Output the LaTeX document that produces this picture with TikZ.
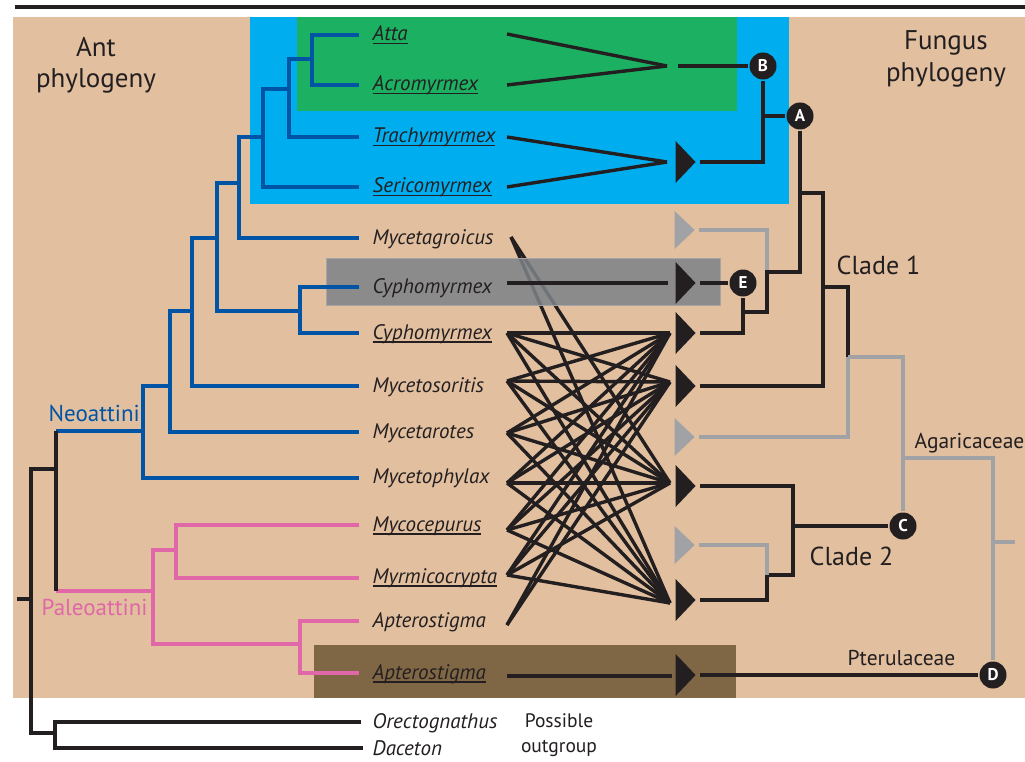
\documentclass[tikz,border=0pt]{standalone}
\usepackage{fontspec}
\setmainfont{PT Sans}
\usetikzlibrary{shapes.geometric}
\definecolor{tanbg}{RGB}{225,191,159}
\definecolor{cyanbox}{RGB}{0,174,239}
\definecolor{greenbox}{RGB}{27,176,98}
\definecolor{graybox}{RGB}{126,131,136}
\definecolor{grayedge}{RGB}{165,165,165}
\definecolor{brownbox}{RGB}{127,102,69}
\definecolor{antblue}{RGB}{0,84,166}
\definecolor{antpink}{RGB}{224,104,168}
\definecolor{inkblack}{RGB}{35,31,32}
\definecolor{fungray}{RGB}{160,162,166}
\newsavebox\taxonbox
\newcommand{\ultaxon}[1]{\sbox\taxonbox{#1}\rlap{\rule[-3.5pt]{\wd\taxonbox}{1.8pt}}\usebox\taxonbox}
\tikzset{
phylo/.style={
    x=1pt,
    y=-1pt,
    line width=3.4pt
},
taxon/.style={
    anchor=base west,
    inner sep=0pt,
    text=inkblack,
    font=\fontsize{21}{21}\selectfont\itshape
},
heading/.style={
    anchor=base,
    inner sep=0pt,
    text=inkblack,
    font=\fontsize{27}{27}\selectfont
},
cladename/.style={
    anchor=base west,
    inner sep=0pt,
    text=inkblack,
    font=\fontsize{26}{26}\selectfont
},
family/.style={
    anchor=base west,
    inner sep=0pt,
    text=inkblack,
    font=\fontsize{21.5}{21.5}\selectfont
},
tribe/.style={
    anchor=base west,
    inner sep=0pt,
    font=\fontsize{23}{23}\selectfont
},
neoline/.style={
    draw=antblue
},
paleoline/.style={
    draw=antpink
},
rootline/.style={
    draw=inkblack
},
fan/.style={
    draw=inkblack
},
fungline/.style={
    draw=inkblack
},
lostline/.style={
    draw=fungray
},
cultivar/.style={
    isosceles triangle,
    isosceles triangle stretches,
    minimum width=42pt,
    minimum height=20pt,
    inner sep=0pt,
    fill=inkblack,
    anchor=apex
},
lostcultivar/.style={
    cultivar,
    fill=fungray,
    minimum width=38pt
},
fungnode/.style={
    circle,
    fill=inkblack,
    text=white,
    inner sep=0pt,
    minimum size=27pt,
    font=\fontsize{17}{17}\selectfont\bfseries
}}

\begin{document}
\begin{tikzpicture}[phylo]
\useasboundingbox (0,0) rectangle (1025,762);
% panels
\fill[white]     (0,0)     rectangle (1025,762);
\draw[inkblack]  (15,7) -- (1025,7);
\fill[tanbg]     (13,17)   rectangle (1025,698);
\fill[cyanbox]   (250,17)  rectangle (789,204);
\fill[greenbox]  (297,17)  rectangle (737,111);
\fill[brownbox]  (314,645) rectangle (736,698);

% ant tips
\coordinate (atta)   at (359,35);
\coordinate (acro)   at (359,85);
\coordinate (trachy) at (359,137);
\coordinate (serico) at (359,187);
\coordinate (mgroic) at (359,238);
\coordinate (cyph1)  at (359,287);
\coordinate (cyph2)  at (359,333);
\coordinate (msorit) at (359,386);
\coordinate (marot)  at (359,432);
\coordinate (mphyl)  at (359,478);
\coordinate (mcocep) at (359,525);
\coordinate (myrmic) at (359,578);
\coordinate (apter1) at (359,621);
\coordinate (apter2) at (359,673);
\coordinate (orect)  at (361,722);
\coordinate (dacet)  at (363,748);

% ant splits
\coordinate (n1)    at (312,59);
\coordinate (n2)    at (289,89);
\coordinate (n3)    at (263,137);
\coordinate (n4)    at (239,183);
\coordinate (n5)    at (300,311);
\coordinate (n6)    at (217,238);
\coordinate (n7)    at (192,311);
\coordinate (n8)    at (170,386);
\coordinate (n9)    at (143,431);
\coordinate (neo)   at (56,431);
\coordinate (n13)   at (56,469);
\coordinate (paleo) at (56,591);
\coordinate (n10)   at (153,591);
\coordinate (n11)   at (176,550);
\coordinate (n12)   at (300,644);
\coordinate (n14)   at (55,733);
\coordinate (n15)   at (31,599);
\coordinate (root)  at (17,599);

% fan ends
\coordinate (f-atta)   at (507,34);
\coordinate (f-acro)   at (507,85);
\coordinate (f-trachy) at (507,137);
\coordinate (f-serico) at (507,187);
\coordinate (f-mgroic) at (511,237);
\coordinate (f-cyph1)  at (507,283);
\coordinate (f-cyph2)  at (507,333);
\coordinate (f-msorit) at (507,381);
\coordinate (f-marot)  at (507,433);
\coordinate (f-mphyl)  at (507,483);
\coordinate (f-mcocep) at (507,530);
\coordinate (f-myrmic) at (507,575);
\coordinate (f-apter1) at (507,625);
\coordinate (f-apter2) at (507,676);

\coordinate (v-b)      at (667,66);
\coordinate (v-trachy) at (667,162);
\coordinate (v-cyph1)  at (668,283);
\coordinate (v-one)    at (670,333);
\coordinate (v-two)    at (670,382);
\coordinate (v-three)  at (670,483);
\coordinate (v-four)   at (670,603);
\coordinate (v-apter)  at (672,676);

% Mycetagroicus runs under the grey band
\path (f-mgroic) edge[fan] (v-three);
\path (f-mgroic) edge[fan] (v-four);
\fill[graybox, fill opacity=0.85, draw=grayedge, line width=1pt] (326,258) rectangle (720,305);

% ant tree
\draw[neoline]   (atta) -| (n1) |- (acro);
\draw[neoline]   (n1) -| (n2) |- (trachy);
\draw[neoline]   (n2) -| (n3) |- (serico);
\draw[neoline]   (n3) -| (n4) |- (mgroic);
\draw[neoline]   (cyph1) -| (n5) |- (cyph2);
\draw[neoline]   (n4) -| (n6) |- (n5);
\draw[neoline]   (n6) -| (n7) |- (msorit);
\draw[neoline]   (n7) -| (n8) |- (marot);
\draw[neoline]   (n8) -| (n9) |- (mphyl);
\draw[neoline]   (n9) -- (neo);
\draw[paleoline] (mcocep) -| (n11) |- (myrmic);
\draw[paleoline] (apter1) -| (n12) |- (apter2);
\draw[paleoline] (n11) -| (n10) |- (n12);
\draw[paleoline] (paleo) -- (n10);
\draw[rootline]  (neo) -- (paleo);
\draw[rootline]  (n13) -| (n15) |- (n14);
\draw[rootline]  (orect) -| (n14) |- (dacet);
\draw[rootline]  (n15) -- (root);

% taxa
\node[taxon] (l-atta)   at (371,41)  {\ultaxon{Atta}};
\node[taxon] (l-acro)   at (371,91)  {\ultaxon{Acromyrmex}};
\node[taxon] (l-trachy) at (371,143) {\ultaxon{Trachymyrmex}};
\node[taxon] (l-serico) at (371,193) {\ultaxon{Sericomyrmex}};
\node[taxon] (l-mgroic) at (371,244) {Mycetagroicus};
\node[taxon] (l-cyph1)  at (371,293) {Cyphomyrmex};
\node[taxon] (l-cyph2)  at (371,339) {\ultaxon{Cyphomyrmex}};
\node[taxon] (l-msorit) at (371,392) {Mycetosoritis};
\node[taxon] (l-marot)  at (371,438) {Mycetarotes};
\node[taxon] (l-mphyl)  at (371,483) {Mycetophylax};
\node[taxon] (l-mcocep) at (371,531) {\ultaxon{Mycocepurus}};
\node[taxon] (l-myrmic) at (371,583) {\ultaxon{Myrmicocrypta}};
\node[taxon] (l-apter1) at (371,627) {Apterostigma};
\node[taxon] (l-apter2) at (371,679) {\ultaxon{Apterostigma}};
\node[taxon] (l-orect)  at (371,728) {Orectognathus};
\node[taxon] (l-dacet)  at (371,755) {Daceton};

\node[tribe, text=antblue] (neoattini)   at (47,421) {Neoattini};
\node[tribe, text=antpink] (paleoattini) at (40,615) {Paleoattini};
\node[heading] (ant-a) at (96,57) {Ant};
\node[heading] (ant-b) at (96,88) {phylogeny};
\node[heading] (fun-a) at (946,50) {Fungus};
\node[heading] (fun-b) at (946,82) {phylogeny};
\node[heading, font=\fontsize{19.5}{19.5}\selectfont] (out-a) at (559,727) {Possible};
\node[heading, font=\fontsize{19.5}{19.5}\selectfont] (out-b) at (559,752) {outgroup};

% associations
\path (f-atta)   edge[fan] (v-b);
\path (f-acro)   edge[fan] (v-b);
\path (f-trachy) edge[fan] (v-trachy);
\path (f-serico) edge[fan] (v-trachy);
\path (f-cyph1)  edge[fan] (v-cyph1);
\path (f-apter2) edge[fan] (v-apter);

\path (f-cyph2)  edge[fan] (v-one);
\path (f-cyph2)  edge[fan] (v-two);
\path (f-cyph2)  edge[fan] (v-three);
\path (f-cyph2)  edge[fan] (v-four);
\path (f-msorit) edge[fan] (v-one);
\path (f-msorit) edge[fan] (v-two);
\path (f-msorit) edge[fan] (v-three);
\path (f-msorit) edge[fan] (v-four);
\path (f-marot)  edge[fan] (v-one);
\path (f-marot)  edge[fan] (v-two);
\path (f-marot)  edge[fan] (v-three);
\path (f-marot)  edge[fan] (v-four);
\path (f-mphyl)  edge[fan] (v-one);
\path (f-mphyl)  edge[fan] (v-two);
\path (f-mphyl)  edge[fan] (v-three);
\path (f-mphyl)  edge[fan] (v-four);
\path (f-mcocep) edge[fan] (v-one);
\path (f-mcocep) edge[fan] (v-two);
\path (f-mcocep) edge[fan] (v-three);
\path (f-mcocep) edge[fan] (v-four);
\path (f-myrmic) edge[fan] (v-one);
\path (f-myrmic) edge[fan] (v-two);
\path (f-myrmic) edge[fan] (v-three);
\path (f-myrmic) edge[fan] (v-four);
\path (f-apter1) edge[fan] (v-one);
\path (f-apter1) edge[fan] (v-two);

% fungal cultivars
\node[cultivar]     (t-trachy) at (700,162) {};
\node[lostcultivar] (t-gone)   at (699,230) {};
\node[cultivar]     (t-cyph1)  at (700,283) {};
\node[cultivar]     (t-cyph2)  at (700,333) {};
\node[cultivar]     (t-msorit) at (700,386) {};
\node[lostcultivar] (t-gtwo)   at (699,437) {};
\node[cultivar]     (t-mphyl)  at (700,486) {};
\node[lostcultivar] (t-gthree) at (699,545) {};
\node[cultivar]     (t-myrmic) at (700,600) {};
\node[cultivar]     (t-apter)  at (700,675) {};

% fungus tree
\coordinate (b-start) at (678,66);
\coordinate (a-mid)   at (800,193);
\coordinate (k1)      at (767,272);
\coordinate (e-j)     at (743,312);
\coordinate (k2)      at (823,287);
\coordinate (k3)      at (848,357);
\coordinate (k4)      at (903,458);
\coordinate (k5)      at (993,542);
\coordinate (stub)    at (1015,542);
\coordinate (k6)      at (793,526);
\coordinate (k7)      at (767,575);

\node[fungnode] (B) at (763,66)  {B};
\node[fungnode] (A) at (800,116) {A};
\node[fungnode] (E) at (743,283) {E};
\node[fungnode] (C) at (903,526) {C};
\node[fungnode] (D) at (993,675) {D};

\draw[fungline] (b-start) -- (B);
\draw[fungline] (t-trachy.apex) -| (B);
\draw[fungline] (B) |- (A);
\draw[fungline] (t-cyph1.apex) -- (E);
\draw[fungline] (E) |- (t-cyph2.apex);
\draw[lostline] (t-gone.apex) -| (k1);
\draw[fungline] (e-j) -| (k1) -| (A);
\draw[fungline] (a-mid) -| (k2) |- (t-msorit.apex);
\draw[fungline] (k2) -| (k3);
\draw[lostline] (k3) |- (t-gtwo.apex);
\draw[lostline] (k3) -| (k4) -- (C);
\draw[lostline] (k4) -| (k5) -- (D);
\draw[lostline] (k5) -- (stub);
\draw[fungline] (t-mphyl.apex) -| (k6) -- (C);
\draw[fungline] (k6) |- (k7) |- (t-myrmic.apex);
\draw[lostline] (t-gthree.apex) -| (k7);
\draw[fungline] (t-apter.apex) -- (D);

\node[cladename] (clade1) at (835,274) {Clade 1};
\node[cladename] (clade2) at (808,565) {Clade 2};
\node[family]    (agaric) at (913,448) {Agaricaceae};
\node[family]    (pterul) at (846,665) {Pterulaceae};
\end{tikzpicture}
\end{document}
